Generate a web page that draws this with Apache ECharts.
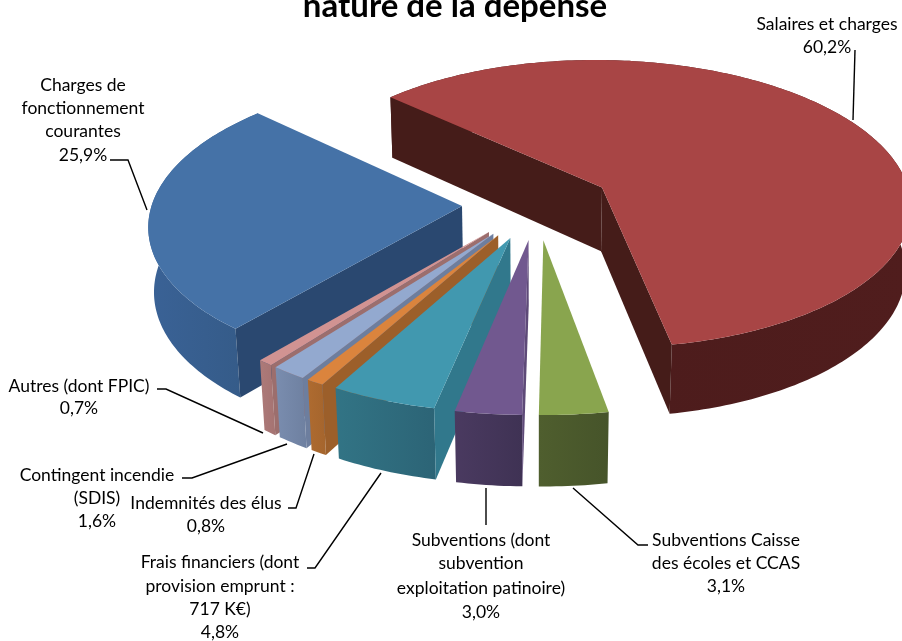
<!DOCTYPE html>
<html><head><meta charset="utf-8">
<style>html,body{margin:0;padding:0;background:#fff}#c{width:902px;height:641px}</style>
<script src="https://cdn.jsdelivr.net/npm/echarts@6/dist/echarts.min.js"></script>
</head><body><div id="c"></div>
<script>
// ---- data ----
var categories = ["Salaires et charges","Subventions Caisse des écoles et CCAS","Subventions (dont subvention exploitation patinoire)","Frais financiers (dont provision emprunt : 717 K€)","Indemnités des élus","Contingent incendie (SDIS)","Autres (dont FPIC)","Charges de fonctionnement courantes"];
var values = [60.2,3.1,3.0,4.8,0.8,1.6,0.7,25.9];
var labelLines = [
 ["Salaires et charges","60,2%"],
 ["Subventions Caisse","des écoles et CCAS","3,1%"],
 ["Subventions (dont","subvention","exploitation patinoire)","3,0%"],
 ["Frais financiers (dont","provision emprunt :","717 K€)","4,8%"],
 ["Indemnités des élus","0,8%"],
 ["Contingent incendie","(SDIS)","1,6%"],
 ["Autres (dont FPIC)","0,7%"],
 ["Charges de","fonctionnement","courantes","25,9%"]
];
var titleText = "nature de la dépense";
// ---- styles ----
var topColors  = ["#A84545","#89A54E","#71588F","#4198AF","#DB843D","#93A9CF","#D19392","#4572A7"];
var sideColors = ["#451C19","#4B5A2B","#5E4A78","#31788C","#9C5F2A","#6D7E9E","#9C6E6D","#2A4870"];
var wallA = ["#4A1B1B","#4F5E2E","#4A3A60","#327485","#AE6B30","#7A8DAF","#AD7A79","#3A6296"];
var wallB = ["#501D1D","#46542A","#3F3254","#2C6476","#A5652D","#6E80A0","#A57372","#345A86"];
// ---- layout ----
var startAngle = 313.2, R = 310, E = 75, H = 74;
var cx = 537, cy = 204, tilt = 0.47, D = 2370;
var sp = tilt, cp = Math.sqrt(1 - tilt * tilt);
var drawOrder = [0,7,6,5,4,3,2,1];
var labelPos = [
 {x:827,y:[24,47]},
 {x:726,y:[540,563,586]},
 {x:481,y:[540,563,588,612]},
 {x:220,y:[562,586,609,632]},
 {x:206,y:[503,526]},
 {x:97,y:[475,498,521]},
 {x:79,y:[386,408]},
 {x:83,y:[85,108,131,155]}
];
var leaders = [
 [[855,50],[853,120]],
 [[573,488],[638,545],[648,545]],
 [[486,488],[486,525]],
 [[307,568],[315,568],[381,473]],
 [[288,508],[296,508],[314,454]],
 [[182,478],[192,478],[287,444]],
 [[157,389],[166,389],[263,433]],
 [[110,160],[128,160],[147,210]]
];

function proj(X, Y, Z) {
  var s = 1 - (Y * cp + Z * sp) / D;
  return [cx + X / s, cy + (Y * sp - Z * cp) / s];
}
var total = values.reduce(function (a, b) { return a + b; }, 0);
var spans = [], acc = startAngle;
values.forEach(function (v) { var a = v / total * 360; spans.push([acc, acc + a]); acc += a; });

function pt(ang, r, ox, oy, z) {
  var t = ang * Math.PI / 180;
  return proj(ox + r * Math.sin(t), oy - r * Math.cos(t), z);
}
function area(p) {
  var s = 0;
  for (var i = 0; i < p.length; i++) { var q = p[(i + 1) % p.length]; s += p[i][0] * q[1] - q[0] * p[i][1]; }
  return s;
}
function poly(points, fill) {
  return { type: 'polygon', shape: { points: points }, style: { fill: fill, stroke: null } };
}
function renderSlice(params, api) {
  var i = api.value(0), sp0 = spans[i];
  var mid = (sp0[0] + sp0[1]) / 2 * Math.PI / 180;
  var ox = E * Math.sin(mid), oy = -E * Math.cos(mid);
  var topArc = [], botArc = [], n = Math.max(2, Math.ceil(sp0[1] - sp0[0]));
  for (var k = 0; k <= n; k++) {
    var a = sp0[0] + (sp0[1] - sp0[0]) * k / n;
    topArc.push(pt(a, R, ox, oy, 0));
    botArc.push(pt(a, R, ox, oy, -H));
  }
  var apexT = pt(0, 0, ox, oy, 0), apexB = pt(0, 0, ox, oy, -H);
  var children = [];
  // outer wall
  children.push({ type: 'polygon', shape: { points: topArc.concat(botArc.slice().reverse()) },
    style: { fill: new echarts.graphic.LinearGradient(0, 0, 1, 0, [{ offset: 0, color: wallA[i] }, { offset: 1, color: wallB[i] }]) } });
  // radial faces: keep those facing the viewer
  var f1 = [apexT, topArc[0], botArc[0], apexB];
  var f2 = [topArc[n], apexT, apexB, botArc[n]];
  if (area(f1) < 0) children.push(poly(f1, sideColors[i]));
  if (area(f2) < 0) children.push(poly(f2, sideColors[i]));
  // top face
  children.push(poly([apexT].concat(topArc), topColors[i]));
  return { type: 'group', children: children };
}
var graphics = [];
labelLines.forEach(function (lines, i) {
  lines.forEach(function (t, j) {
    graphics.push({ type: 'text', x: labelPos[i].x, y: labelPos[i].y[j],
      style: { text: t, font: '17.5px Lato', fill: '#000', textAlign: 'center', textVerticalAlign: 'middle' } });
  });
  graphics.push({ type: 'polyline', shape: { points: leaders[i] }, style: { stroke: '#000', lineWidth: 1.4, fill: null } });
});
graphics.push({ type: 'text', x: 455, y: 6, style: { text: titleText, font: 'bold 33px Lato', fill: '#000', textAlign: 'center', textVerticalAlign: 'middle' } });

var chart = echarts.init(document.getElementById('c'), null, { renderer: 'canvas' });
chart.setOption({
  animation: false,
  backgroundColor: '#fff',
  series: [{
    type: 'custom',
    coordinateSystem: 'none',
    renderItem: renderSlice,
    silent: true,
    data: drawOrder.map(function (i) { return { name: categories[i], value: [i, values[i]] }; })
  }],
  graphic: graphics
});
</script></body></html>
